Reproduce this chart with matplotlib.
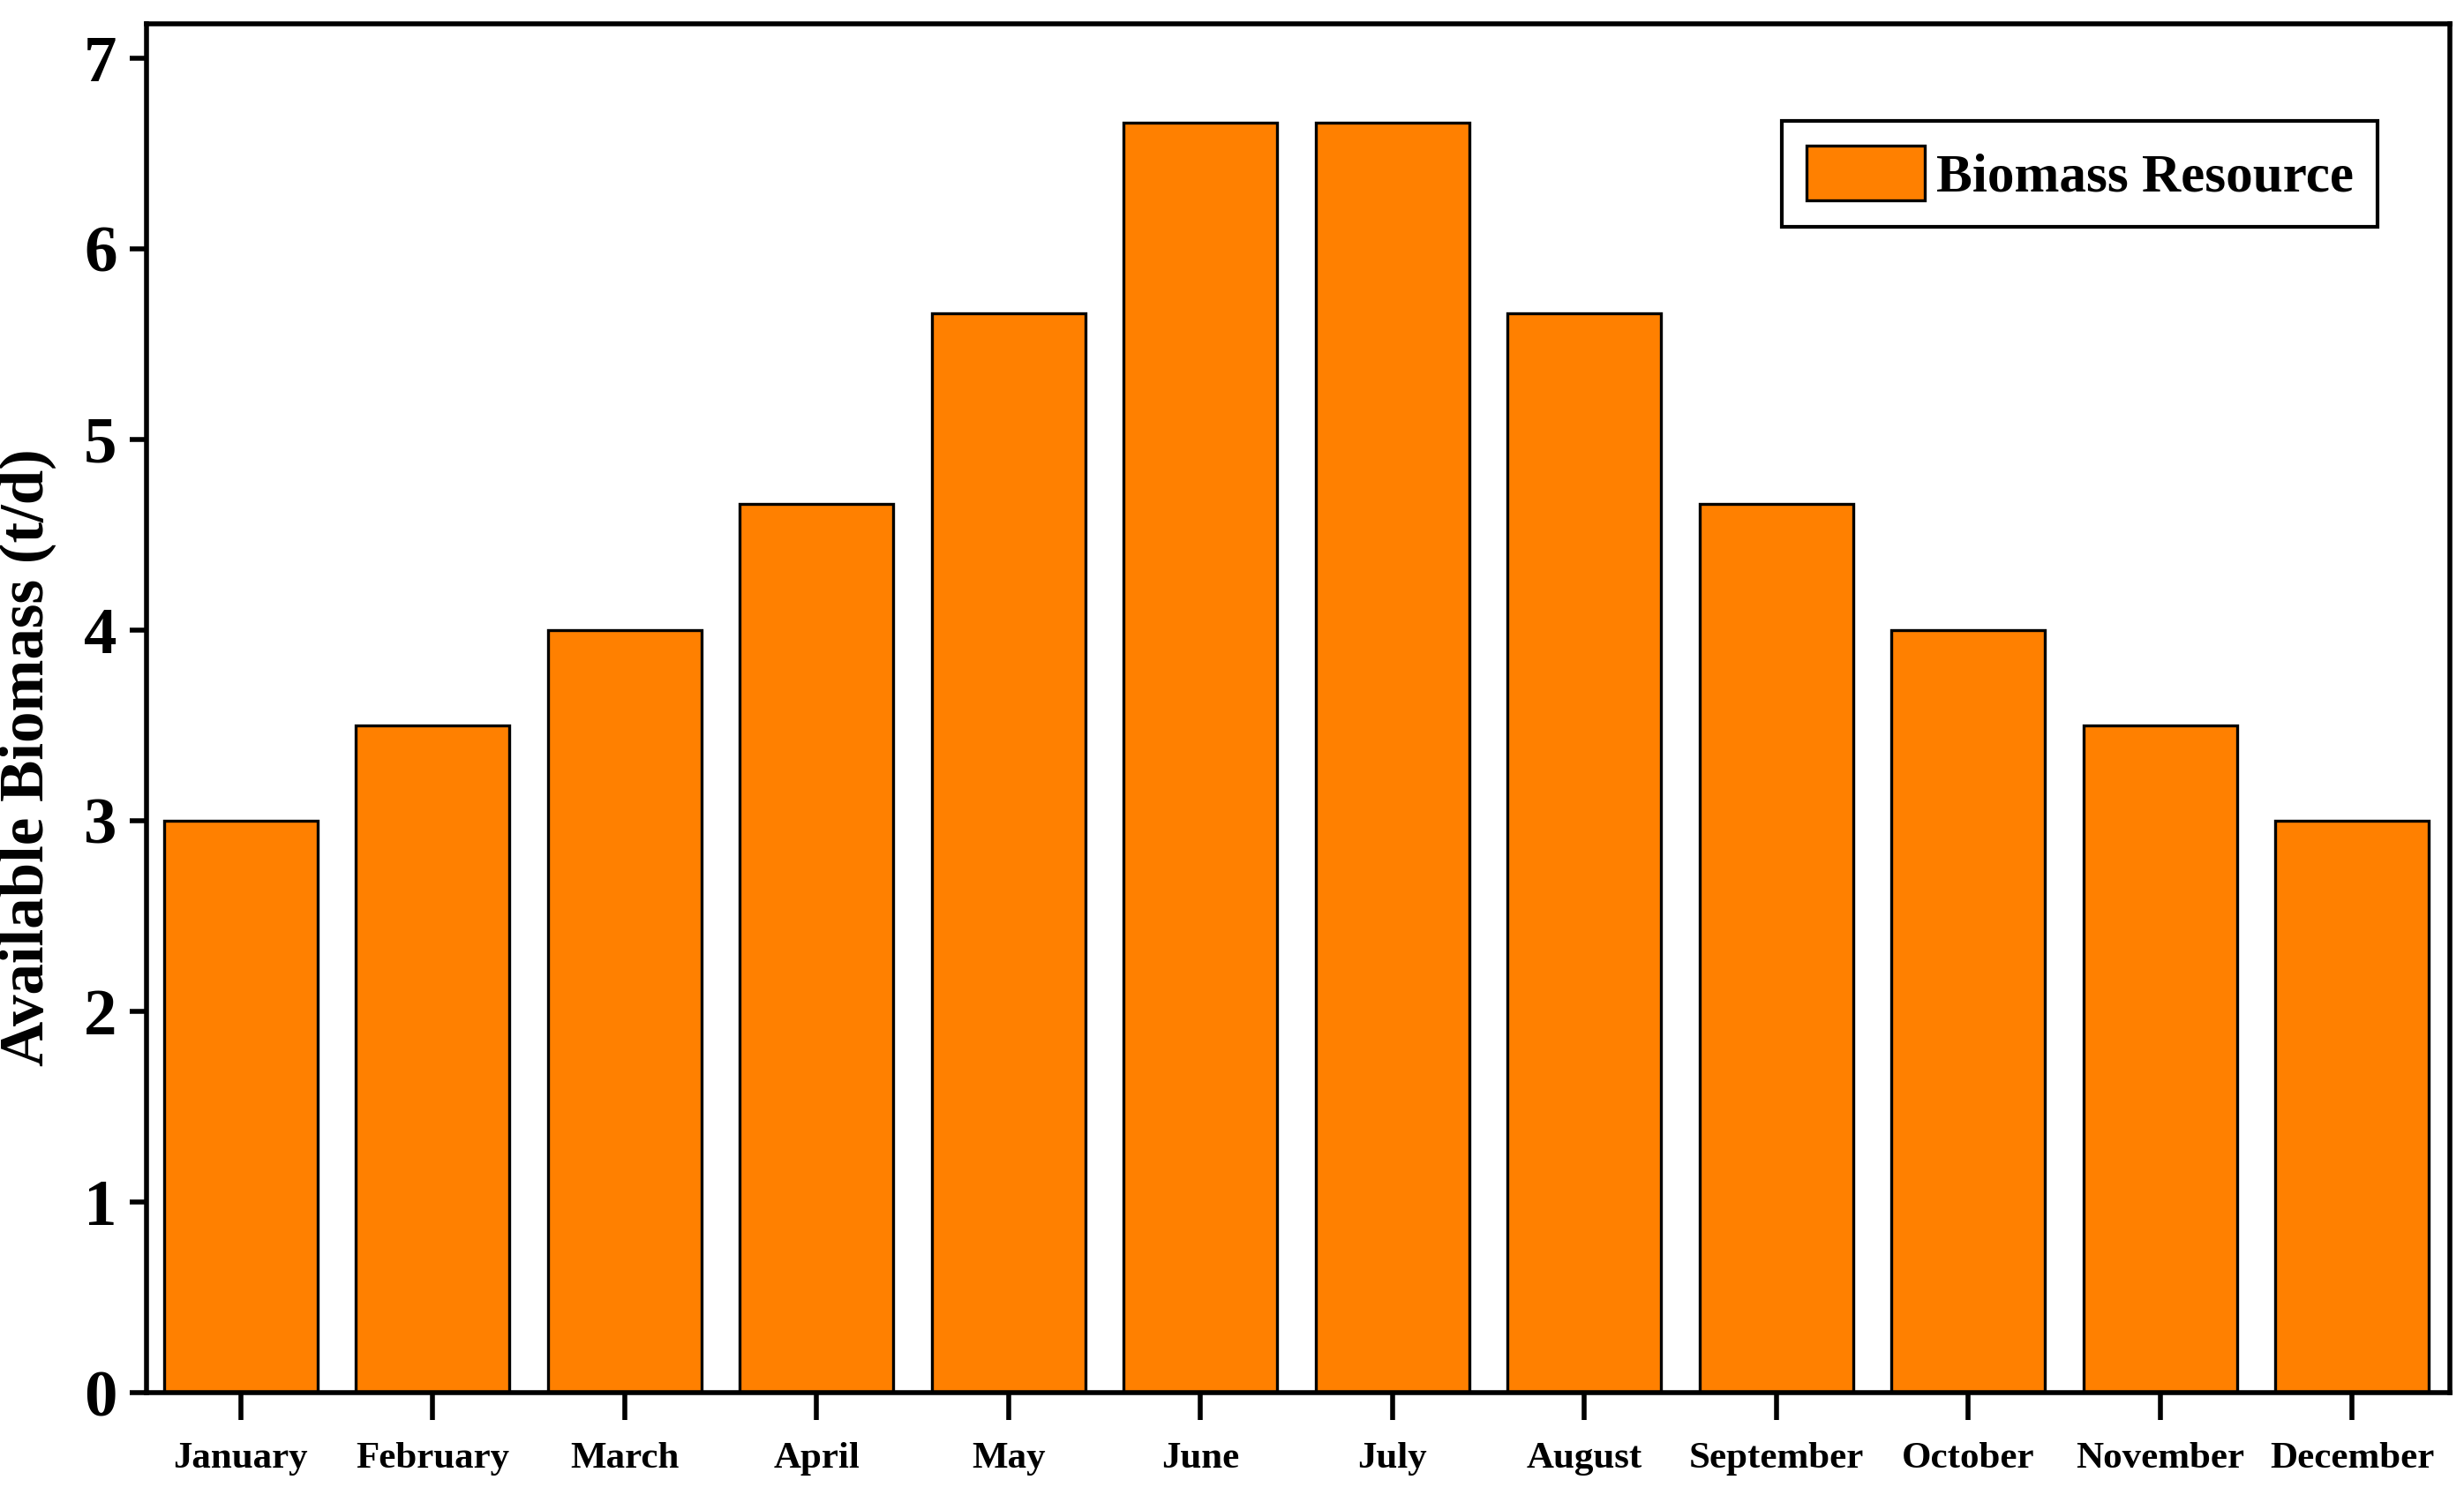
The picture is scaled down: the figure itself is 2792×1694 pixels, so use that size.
import matplotlib
matplotlib.use("Agg")
import matplotlib.pyplot as plt

months = ["January", "February", "March", "April", "May", "June",
          "July", "August", "September", "October", "November", "December"]
biomass = [3.0, 3.5, 4.0, 4.66, 5.66, 6.66, 6.66, 5.66, 4.66, 4.0, 3.5, 3.0]
yticks = [0, 1, 2, 3, 4, 5, 6, 7]

plt.rcParams["font.family"] = ["Liberation Serif", "DejaVu Serif"]
plt.rcParams["font.weight"] = "bold"

fig = plt.figure(figsize=(13.96, 8.47), dpi=200)
ax = fig.add_axes([166 / 2792, 1 - 1578 / 1694, 2610 / 2792, 1551 / 1694])

x = list(range(len(months)))
ax.bar(x, biomass, width=0.8, color="#FF8000", edgecolor="black",
       linewidth=1.2, label="Biomass Resource")

ax.set_xlim(-0.49, 11.51)
ax.set_ylim(0, 7.18)
ax.set_xticks(x)
ax.set_xticklabels(months, fontsize=15.5, fontweight="bold")
ax.set_yticks(yticks)
ax.set_yticklabels([str(v) for v in yticks], fontsize=27, fontweight="bold")

ax.tick_params(axis="x", direction="out", length=11, width=2, pad=9)
ax.tick_params(axis="y", direction="out", length=7, width=2, pad=5)
for s in ax.spines.values():
    s.set_linewidth(2)

ax.set_ylabel("Available Biomass (t/d)", fontsize=25.5, fontweight="bold")
ax.yaxis.set_label_coords(-0.039, 0.464)

leg = ax.legend(loc="upper right", bbox_to_anchor=(0.9686, 0.929), borderaxespad=0,
                fancybox=False, edgecolor="black", framealpha=1,
                prop={"size": 22, "weight": "bold"},
                handlelength=2.2, handleheight=1.2, handletextpad=0.2,
                borderpad=0.45)
leg.get_frame().set_linewidth(1.5)

fig.savefig("out.png", dpi=200)
